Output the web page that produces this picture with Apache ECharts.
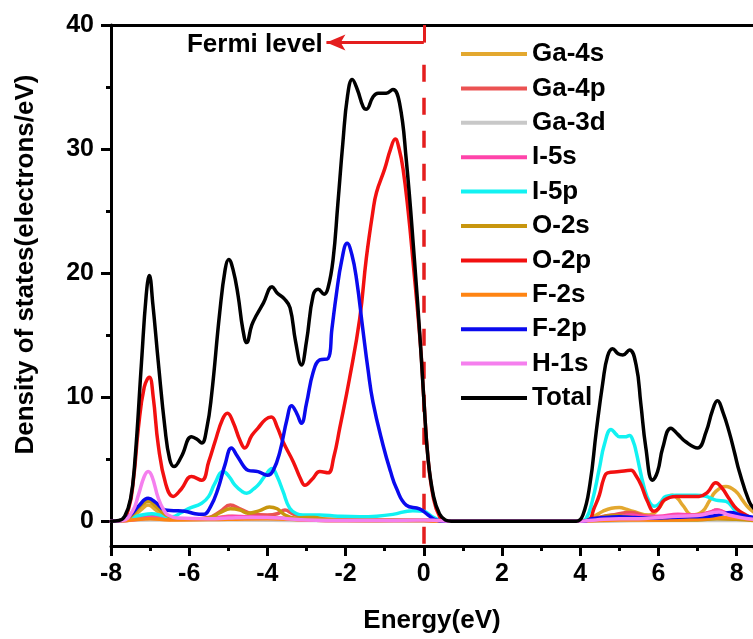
<!DOCTYPE html>
<html>
<head>
<meta charset="utf-8">
<script src="https://cdn.jsdelivr.net/npm/echarts@6/dist/echarts.min.js"></script>
<style>
html,body{margin:0;padding:0;background:#fff;}
#chart{width:753px;height:639px;}
</style>
</head>
<body>
<div id="chart"></div>
<script>
// ---- Data (energy in eV, DOS in electrons/eV) ----
const seriesNames = ['Ga-4s','Ga-4p','Ga-3d','I-5s','I-5p','O-2s','O-2p','F-2s','F-2p','H-1s','Total'];
const xTickValues = [-8,-6,-4,-2,0,2,4,6,8];
const xMinorTickValues = [-7,-5,-3,-1,1,3,5,7];
const yTickValues = [0,10,20,30,40];
const yMinorTickValues = [5,15,25,35];
const fermiEnergy = 0;
const fermiArrowLevel = 38.58;
const fermiArrowTip = -2.49;
const fermiLabelPos = [-4.32, 38.4];

const ga4s = [[-8,0],[-7.7,0.05],[-7.4,0.5],[-7.2,1.0],[-7.05,1.3],[-6.85,0.9],[-6.6,0.3],[-6.2,0.1],[-5.5,0.15],[-5.0,0.4],[-4.5,0.3],[-4.0,0.35],[-3.5,0.2],[-3.0,0.1],[-2.0,0.05],[0,0.05],[0.5,0],[4.0,0],[4.3,0.3],[4.58,0.8],[4.8,1.05],[5.0,1.1],[5.2,0.95],[5.34,0.8],[5.77,0.5],[6.0,1.0],[6.19,1.85],[6.36,2.1],[6.5,1.8],[6.62,1.3],[6.87,0.5],[7.13,0.8],[7.3,1.6],[7.47,2.4],[7.73,2.8],[7.98,2.4],[8.15,1.7],[8.3,1.1],[8.45,0.7]];
const ga4p = [[-8,0],[-7.6,0.05],[-7.2,0.3],[-7.0,0.4],[-6.6,0.2],[-6,0.15],[-5.5,0.3],[-5.2,0.8],[-4.95,1.3],[-4.7,1.0],[-4.4,0.6],[-4.0,0.5],[-3.75,0.6],[-3.55,0.9],[-3.35,0.6],[-3.0,0.3],[-2.5,0.15],[-1.5,0.1],[0,0.1],[0.5,0],[4.0,0],[4.3,0.2],[4.8,0.5],[5.3,0.7],[5.7,0.4],[6.0,0.3],[6.5,0.4],[7.0,0.5],[7.3,0.7],[7.5,0.9],[7.75,0.6],[8.1,0.3],[8.45,0.1]];
const ga3d = [[-8,0],[-7,0.1],[-5,0.1],[-3,0.05],[0,0.02],[0.5,0],[4,0],[6,0.05],[8.45,0.05]];
const i5s = [[-8,0],[-7.6,0.05],[-7.2,0.2],[-7.0,0.3],[-6.6,0.2],[-6,0.15],[-5.2,0.3],[-4.9,0.4],[-4.5,0.35],[-4.0,0.3],[-3.5,0.2],[-3.0,0.1],[-2,0.05],[0,0.05],[0.5,0],[4.0,0],[4.4,0.15],[4.9,0.3],[5.3,0.5],[5.6,0.4],[6.0,0.4],[6.5,0.55],[7.0,0.5],[7.3,0.7],[7.5,0.9],[7.7,0.7],[8.0,0.3],[8.45,0.1]];
const i5p = [[-8,0],[-7.7,0.05],[-7.45,0.3],[-7.22,0.5],[-6.95,0.6],[-6.7,0.45],[-6.45,0.35],[-6.2,0.7],[-6.03,1.0],[-5.68,1.45],[-5.5,2.0],[-5.35,3.0],[-5.13,4.0],[-4.98,3.6],[-4.83,2.9],[-4.65,2.4],[-4.53,2.25],[-4.35,2.6],[-4.24,2.9],[-4.05,3.7],[-3.88,4.25],[-3.75,3.6],[-3.6,2.4],[-3.43,1.05],[-3.25,0.6],[-3.09,0.5],[-2.66,0.5],[-2.2,0.4],[-1.64,0.35],[-1.2,0.4],[-0.79,0.55],[-0.28,0.85],[0,0.8],[0.2,0.4],[0.4,0.1],[0.6,0],[4.0,0],[4.15,0.2],[4.3,1.5],[4.49,4.25],[4.62,6.2],[4.79,7.4],[4.92,7.0],[5.0,6.8],[5.15,6.8],[5.26,6.9],[5.36,6.4],[5.43,5.6],[5.64,2.65],[5.78,1.5],[5.9,1.2],[6.05,1.5],[6.19,2.0],[6.45,2.1],[6.96,2.1],[7.22,2.0],[7.47,1.7],[7.73,1.6],[7.98,0.8],[8.24,0.2],[8.45,0.1]];
const o2s = [[-8,0],[-7.7,0.05],[-7.45,0.5],[-7.25,1.2],[-7.05,1.6],[-6.85,1.2],[-6.6,0.5],[-6.3,0.2],[-5.9,0.15],[-5.5,0.25],[-5.2,0.7],[-4.95,1.0],[-4.7,0.9],[-4.5,0.65],[-4.2,0.85],[-3.95,1.15],[-3.75,1.0],[-3.55,0.5],[-3.3,0.25],[-3.0,0.3],[-2.8,0.3],[-2.5,0.15],[-1.5,0.05],[0,0.1],[0.5,0],[4.0,0],[4.4,0.2],[4.8,0.45],[5.2,0.35],[5.6,0.15],[6.0,0.1],[7.0,0.1],[7.5,0.2],[8.0,0.15],[8.45,0.05]];
const o2p = [[-8,0],[-7.75,0.05],[-7.55,1.0],[-7.42,3.5],[-7.3,7.5],[-7.15,10.8],[-7.02,11.6],[-6.92,10.0],[-6.79,6.1],[-6.6,3.0],[-6.41,2.0],[-6.2,2.6],[-5.94,3.6],[-5.68,3.3],[-5.5,4.8],[-5.34,6.4],[-5.15,8.2],[-5.02,8.7],[-4.88,8.0],[-4.7,6.5],[-4.58,5.9],[-4.4,6.9],[-4.24,7.5],[-4.05,8.2],[-3.9,8.4],[-3.75,7.6],[-3.6,6.4],[-3.34,4.8],[-3.15,3.4],[-3.04,2.9],[-2.85,3.4],[-2.66,4.0],[-2.45,3.9],[-2.3,5.2],[-2.15,7.5],[-1.9,11.5],[-1.64,16.3],[-1.47,21.2],[-1.3,25.0],[-1.21,26.5],[-1.0,28.4],[-0.85,30.0],[-0.73,30.8],[-0.63,30.0],[-0.53,28.4],[-0.4,25.0],[-0.28,21.1],[-0.08,14.0],[0,9.9],[0.11,5.0],[0.25,1.8],[0.4,0.4],[0.55,0],[4.0,0],[4.23,0.1],[4.35,1.0],[4.49,2.1],[4.6,3.4],[4.7,3.9],[5.0,4.0],[5.3,4.1],[5.42,3.7],[5.56,2.9],[5.72,1.6],[5.89,0.8],[6.0,1.0],[6.15,1.7],[6.45,2.0],[7.04,2.0],[7.25,2.3],[7.47,3.1],[7.62,2.7],[7.81,1.8],[8.0,1.0],[8.24,0.5],[8.45,0.2]];
const f2s = [[-8,0],[-7.6,0.05],[-7,0.2],[-6.5,0.1],[-5,0.15],[-4,0.2],[-3,0.1],[-2,0.05],[0,0.05],[0.5,0],[4,0],[5,0.1],[6,0.1],[7,0.15],[7.8,0.3],[8.45,0.1]];
const f2p = [[-8,0],[-7.75,0.05],[-7.5,0.5],[-7.3,1.2],[-7.05,1.85],[-6.85,1.5],[-6.62,0.9],[-6.4,0.85],[-6.11,0.8],[-5.85,0.6],[-5.64,0.55],[-5.45,1.2],[-5.26,2.65],[-5.08,4.6],[-4.92,5.9],[-4.78,5.3],[-4.6,4.4],[-4.49,4.1],[-4.24,4.0],[-4.0,3.7],[-3.85,4.1],[-3.68,5.6],[-3.5,8.2],[-3.38,9.3],[-3.25,8.7],[-3.13,7.9],[-3.0,9.5],[-2.83,12.0],[-2.66,13.0],[-2.45,13.1],[-2.35,15.5],[-2.24,18.2],[-2.1,21.0],[-1.96,22.4],[-1.84,21.5],[-1.72,19.5],[-1.56,15.5],[-1.43,12.3],[-1.3,9.6],[-1.04,6.1],[-0.85,4.0],[-0.7,2.65],[-0.45,1.3],[-0.11,1.0],[0.11,0.5],[0.3,0.1],[0.5,0],[4.1,0],[4.3,0.2],[4.6,0.3],[5.0,0.35],[5.4,0.3],[5.9,0.25],[6.3,0.3],[6.8,0.35],[7.3,0.4],[7.6,0.55],[7.85,0.7],[8.1,0.5],[8.45,0.3]];
const h1s = [[-8,0],[-7.7,0.05],[-7.45,0.8],[-7.3,2.1],[-7.15,3.6],[-7.05,4.0],[-6.95,3.6],[-6.79,1.85],[-6.65,0.9],[-6.54,0.5],[-6.3,0.25],[-5.5,0.2],[-5.0,0.25],[-4.5,0.3],[-4.0,0.3],[-3.5,0.2],[-3.0,0.1],[-2.0,0.05],[-1.0,0.05],[0,0.1],[0.4,0.05],[0.7,0],[4.0,0],[4.4,0.1],[5.0,0.2],[5.5,0.2],[6.0,0.3],[6.5,0.4],[7.0,0.45],[7.4,0.7],[7.55,0.75],[7.8,0.5],[8.1,0.3],[8.45,0.15]];
const total = [[-8,0],[-7.8,0.05],[-7.65,0.4],[-7.5,1.8],[-7.39,4.8],[-7.22,12.8],[-7.1,18.2],[-7.02,19.8],[-6.93,17.5],[-6.79,12.8],[-6.62,7.5],[-6.5,5.0],[-6.39,4.4],[-6.2,5.2],[-5.94,6.8],[-5.8,6.6],[-5.68,6.3],[-5.55,7.5],[-5.43,10.1],[-5.22,16.8],[-5.08,20.3],[-4.99,21.1],[-4.88,20.3],[-4.75,18.2],[-4.63,15.5],[-4.53,14.4],[-4.4,15.8],[-4.28,16.6],[-4.1,17.6],[-3.88,18.9],[-3.75,18.4],[-3.56,17.9],[-3.42,17.2],[-3.28,14.5],[-3.13,12.6],[-3.0,14.5],[-2.83,18.2],[-2.7,18.7],[-2.55,18.3],[-2.45,18.8],[-2.32,21.1],[-2.2,25.5],[-2.07,30.5],[-1.95,34.3],[-1.83,35.6],[-1.7,34.8],[-1.55,33.4],[-1.47,33.2],[-1.3,34.2],[-1.17,34.5],[-0.96,34.5],[-0.79,34.8],[-0.62,33.7],[-0.45,29.2],[-0.24,21.1],[-0.08,14.0],[0,9.9],[0.11,5.0],[0.25,2.0],[0.4,0.6],[0.55,0.1],[0.7,0],[3.9,0],[4.07,0.5],[4.25,3.0],[4.41,7.2],[4.58,11.2],[4.7,13.3],[4.83,13.9],[4.97,13.5],[5.09,13.4],[5.26,13.8],[5.43,12.6],[5.55,9.5],[5.68,5.9],[5.85,3.3],[5.98,4.0],[6.11,5.9],[6.32,7.5],[6.5,7.0],[6.7,6.4],[7.0,5.9],[7.22,7.2],[7.38,8.9],[7.51,9.7],[7.65,8.8],[7.81,7.2],[7.95,5.5],[8.07,4.0],[8.32,1.6],[8.45,1.0]];

const seriesData = [ga4s, ga4p, ga3d, i5s, i5p, o2s, o2p, f2s, f2p, h1s, total];
const seriesColors = ['#E3A82F','#EB5252','#C8C8C8','#FF44AA','#12F2F2','#C8960E','#F21010','#FF8412','#0A0AEE','#F57FEE','#000000'];

// ---- Chart ----
const FONT = 'Liberation Sans, Arial, sans-serif';
const chart = echarts.init(document.getElementById('chart'), null, {renderer: 'canvas'});

const X_MIN = -8, X_MAX = 8.42, Y_MIN = -2, Y_MAX = 40;

const series = seriesNames.map((name, i) => ({
  name: name,
  type: 'line',
  data: seriesData[i],
  smooth: 0.45,
  showSymbol: false,
  symbol: 'none',
  lineStyle: {width: 3.5, color: seriesColors[i], join: 'round', cap: 'round'},
  itemStyle: {color: seriesColors[i]},
  z: 2 + i,
  animation: false,
  clip: true
}));

// Fermi level annotation
series.push({
  name: 'fermi',
  type: 'line',
  data: [],
  animation: false,
  silent: true,
  z: 20,
  markLine: {
    silent: true,
    animation: false,
    symbol: 'none',
    label: {show: false},
    lineStyle: {color: '#E41E1E', width: 3, type: 'solid'},
    data: [
      [{coord: [fermiEnergy, Y_MAX]}, {coord: [fermiEnergy, fermiArrowLevel]}],
      [{coord: [fermiEnergy, fermiArrowLevel], symbol: 'none'}, {coord: [fermiArrowTip, fermiArrowLevel], symbol: 'arrow', symbolSize: [12, 19]}],
      [{coord: [fermiEnergy, 36.8], lineStyle: {type: [17, 16], width: 3.5}}, {coord: [fermiEnergy, Y_MIN]}]
    ]
  },
  markPoint: {
    silent: true,
    animation: false,
    symbol: 'circle',
    symbolSize: 0,
    label: {show: true, position: 'inside', formatter: 'Fermi level', color: '#000', fontFamily: FONT, fontWeight: 'bold', fontSize: 26},
    data: [{coord: fermiLabelPos}]
  }
});

const option = {
  backgroundColor: '#fff',
  animation: false,
  grid: {left: 111, right: 0, top: 25, bottom: 92, containLabel: false},
  legend: {
    orient: 'vertical',
    left: 456,
    top: 36,
    data: seriesNames,
    icon: 'rect',
    itemWidth: 66,
    itemHeight: 4,
    itemGap: 8.4,
    textStyle: {fontFamily: FONT, fontWeight: 'bold', fontSize: 26, lineHeight: 26, color: '#000'}
  },
  xAxis: [
    {
      type: 'value', min: X_MIN, max: X_MAX, position: 'bottom',
      name: 'Energy(eV)', nameLocation: 'middle', nameGap: 62,
      nameTextStyle: {fontFamily: FONT, fontWeight: 'bold', fontSize: 26, color: '#000'},
      axisLine: {show: true, onZero: false, lineStyle: {color: '#000', width: 3}},
      axisTick: {show: true, inside: false, length: 10, customValues: xTickValues, lineStyle: {color: '#000', width: 3}},
      axisLabel: {show: true, margin: 16, customValues: xTickValues, fontFamily: FONT, fontWeight: 'bold', fontSize: 25, color: '#000'},
      splitLine: {show: false}
    },
    {
      type: 'value', min: X_MIN, max: X_MAX, position: 'bottom',
      axisLine: {show: false, onZero: false},
      axisTick: {show: true, inside: false, length: 5, customValues: xMinorTickValues, lineStyle: {color: '#000', width: 3}},
      axisLabel: {show: false},
      splitLine: {show: false}
    },
    {
      type: 'value', min: X_MIN, max: X_MAX, position: 'top',
      axisLine: {show: true, onZero: false, lineStyle: {color: '#000', width: 3}},
      axisTick: {show: false},
      axisLabel: {show: false},
      splitLine: {show: false}
    }
  ],
  yAxis: [
    {
      type: 'value', min: Y_MIN, max: Y_MAX, position: 'left',
      name: 'Density of states(electrons/eV)', nameLocation: 'middle', nameGap: 72, nameRotate: 90,
      nameTextStyle: {fontFamily: FONT, fontWeight: 'bold', fontSize: 26, color: '#000', padding: [0,0,0,42]},
      axisLine: {show: true, onZero: false, lineStyle: {color: '#000', width: 3}},
      axisTick: {show: true, inside: false, length: 10, customValues: yTickValues, lineStyle: {color: '#000', width: 3}},
      axisLabel: {show: true, margin: 17, customValues: yTickValues, fontFamily: FONT, fontWeight: 'bold', fontSize: 25, color: '#000'},
      splitLine: {show: false}
    },
    {
      type: 'value', min: Y_MIN, max: Y_MAX, position: 'left',
      axisLine: {show: false, onZero: false},
      axisTick: {show: true, inside: false, length: 5, customValues: yMinorTickValues, lineStyle: {color: '#000', width: 3}},
      axisLabel: {show: false},
      splitLine: {show: false}
    }
  ],
  series: series
};

chart.setOption(option);
</script>
</body>
</html>
